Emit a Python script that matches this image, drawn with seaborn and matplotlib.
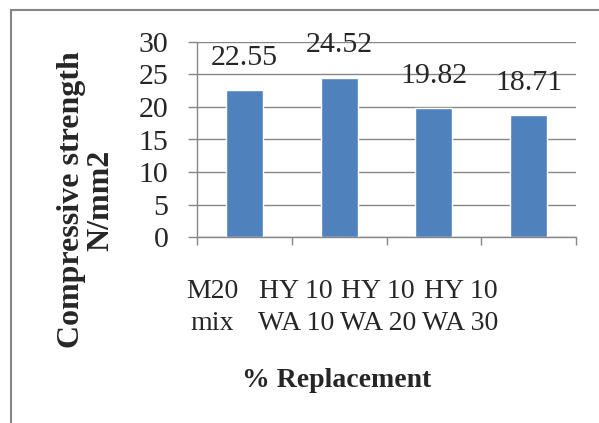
import matplotlib
matplotlib.use("Agg")
import matplotlib.pyplot as plt
import matplotlib.transforms as mtransforms
import seaborn as sns
import pandas as pd
from matplotlib.patches import Rectangle

# ---------- DATA ----------

categories = ["M20\nmix", "HY 10\nWA 10", "HY 10\nWA 20", "HY 10\nWA 30"]
strength = [22.55, 24.52, 19.82, 18.71]
yticks = [0, 5, 10, 15, 20, 25, 30]

df = pd.DataFrame({"Mix": categories, "Strength": strength})

# ---------- STYLE ----------

sns.set_style("white")
plt.rcParams["font.family"] = ["Liberation Serif", "DejaVu Serif"]

grey = "#868686"
blue = "#4F81BD"
fs = 21.5

fig = plt.figure(figsize=(5.99, 4.23), dpi=100)
ax = fig.add_axes([197/599, 1-237/423, (576-197)/599, (237-42)/423])

sns.barplot(
    data=df,
    x="Mix",
    y="Strength",
    color=blue,
    saturation=1,
    width=0.39,
    ax=ax
)

ax.bar_label(ax.containers[0], labels=[f"{v:.2f}" for v in strength],
             padding=14, fontsize=fs)

# ---------- AXES ----------

ax.set_ylim(0, 30)
ax.set_xlim(-0.5, 3.5)
ax.set_yticks(yticks)
ax.yaxis.grid(True, color=grey, linewidth=1)
ax.set_axisbelow(True)

for s in ["top", "right"]:
    ax.spines[s].set_visible(False)
for s in ["left", "bottom"]:
    ax.spines[s].set_color(grey)
    ax.spines[s].set_linewidth(1)

ax.tick_params(axis="y", length=6.5, width=1, color=grey, direction="out",
               pad=14, labelsize=fs, left=True)
ax.tick_params(axis="x", which="major", length=0, pad=30, labelsize=20)
ax.set_xticks([-0.5, 0.5, 1.5, 2.5, 3.5], minor=True)
ax.tick_params(axis="x", which="minor", length=6, width=1, color=grey,
               direction="out", bottom=True)

# Excel squeezes the category labels to the left
shifts_px = [-32, -43, -56, -68]
for lab, dx in zip(ax.get_xticklabels(), shifts_px):
    lab.set_linespacing(1.38)
    lab.set_transform(lab.get_transform() +
                      mtransforms.ScaledTranslation(dx/100, 0, fig.dpi_scale_trans))

ax.set_xlabel("% Replacement", fontsize=20, fontweight="bold")
ax.xaxis.set_label_coords((337-197)/379, (237-368)/195)

ax.set_ylabel("Compressive strength\nN/mm2", fontsize=23,
              fontweight="bold", linespacing=1.0)
ax.yaxis.set_label_coords(-(197-115)/379, (237-200)/195)

# ---------- CHART BORDER ----------

fig.patches.append(Rectangle((11/599, -0.5), 2, 1.5 - 10/423,
                             transform=fig.transFigure, fill=False,
                             edgecolor=grey, linewidth=1.5))

fig.savefig("out.png", dpi=100)
